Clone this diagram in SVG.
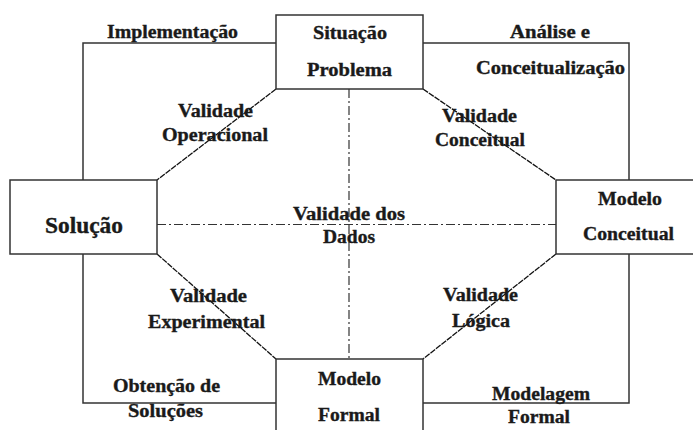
<svg xmlns="http://www.w3.org/2000/svg" width="693" height="430" viewBox="0 0 693 430" font-family="Liberation Serif, Times New Roman, serif">
<style>
.box{fill:#fff;stroke:#333;stroke-width:1.5}
.frame{fill:none;stroke:#333;stroke-width:1.5}
.diag{fill:none;stroke:#111;stroke-width:1.3;stroke-dasharray:6 1}
.cross{fill:none;stroke:#333;stroke-width:1.2;stroke-dasharray:9 3 2 3}
text{font-weight:bold;font-size:18px;fill:#1a1a1a;stroke:#1a1a1a;stroke-width:0.35;text-anchor:middle}
.big{font-size:23px}
</style>
<rect width="693" height="430" fill="#fff"/>
<g id="connectors">
<path class="frame" d="M276 43H83V180M423 43H629V180M83 254V403H276M629 254V403H423"/>
<path class="diag" d="M276 89L157 180M423 89L556 180M157 254L276 359M556 254L423 359"/>
<path class="cross" d="M349 89V359M157 224.5H556"/>
<text x="172.5" y="38" textLength="131" lengthAdjust="spacingAndGlyphs">Implementação</text>
<text x="550" y="38" textLength="80" lengthAdjust="spacingAndGlyphs">Análise e</text>
<text x="550.5" y="74" textLength="149" lengthAdjust="spacingAndGlyphs">Conceitualização</text>
<text x="215.5" y="117" textLength="75" lengthAdjust="spacingAndGlyphs">Validade</text>
<text x="215" y="141" textLength="106" lengthAdjust="spacingAndGlyphs">Operacional</text>
<text x="479.5" y="122" textLength="75" lengthAdjust="spacingAndGlyphs">Validade</text>
<text x="480" y="146" textLength="90" lengthAdjust="spacingAndGlyphs">Conceitual</text>
<text x="349" y="220" textLength="112" lengthAdjust="spacingAndGlyphs">Validade dos</text>
<text x="349" y="243" textLength="52" lengthAdjust="spacingAndGlyphs">Dados</text>
<text x="208.5" y="302" textLength="77" lengthAdjust="spacingAndGlyphs">Validade</text>
<text x="206.5" y="328" textLength="117" lengthAdjust="spacingAndGlyphs">Experimental</text>
<text x="480.5" y="301" textLength="75" lengthAdjust="spacingAndGlyphs">Validade</text>
<text x="481" y="327" textLength="58" lengthAdjust="spacingAndGlyphs">Lógica</text>
<text x="166.5" y="392" textLength="107" lengthAdjust="spacingAndGlyphs">Obtenção de</text>
<text x="165.5" y="417" textLength="75" lengthAdjust="spacingAndGlyphs">Soluções</text>
<text x="541" y="400" textLength="98" lengthAdjust="spacingAndGlyphs">Modelagem</text>
<text x="539" y="423" textLength="62" lengthAdjust="spacingAndGlyphs">Formal</text>
</g>
<g id="situacao-problema">
<rect class="box" x="276" y="15" width="147" height="74"/>
<text x="350" y="39" textLength="74" lengthAdjust="spacingAndGlyphs">Situação</text>
<text x="349.5" y="76" textLength="85" lengthAdjust="spacingAndGlyphs">Problema</text>
</g>
<g id="solucao">
<rect class="box" x="10" y="180" width="147" height="74"/>
<text class="big" x="84" y="233" textLength="78" lengthAdjust="spacingAndGlyphs">Solução</text>
</g>
<g id="modelo-conceitual">
<rect class="box" x="556" y="180" width="150" height="74"/>
<text x="630" y="205" textLength="64" lengthAdjust="spacingAndGlyphs">Modelo</text>
<text x="628.5" y="240" textLength="91" lengthAdjust="spacingAndGlyphs">Conceitual</text>
</g>
<g id="modelo-formal">
<rect class="box" x="276" y="359" width="147" height="80"/>
<text x="349.5" y="385" textLength="63" lengthAdjust="spacingAndGlyphs">Modelo</text>
<text x="349" y="421" textLength="62" lengthAdjust="spacingAndGlyphs">Formal</text>
</g>
</svg>
